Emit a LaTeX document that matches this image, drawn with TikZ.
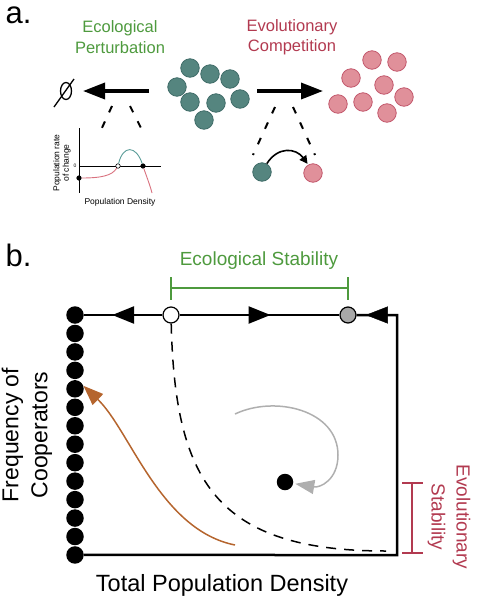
\documentclass[tikz,border=0pt]{standalone}
\usepackage{fontspec}
\setmainfont{Liberation Sans}
\usetikzlibrary{arrows.meta,shapes.geometric,decorations.markings}
\definecolor{ecogreen}{HTML}{4E9A3E}
\definecolor{evored}{HTML}{B23A50}
\definecolor{tealc}{HTML}{55857F}
\definecolor{tealline}{HTML}{3E6B67}
\definecolor{pinkc}{HTML}{E0909A}
\definecolor{pinkline}{HTML}{C2566B}
\definecolor{brownc}{HTML}{B5652E}
\definecolor{grayarrow}{HTML}{AFAFAF}
\definecolor{graydot}{HTML}{A8A8A8}
\definecolor{rateneg}{HTML}{D9727F}
\definecolor{ratepos}{HTML}{5A9C98}
\begin{document}
\begin{tikzpicture}[x=1pt,y=-1pt]
  \tikzset{
    cell/.style={circle,inner sep=0pt,minimum size=18.5pt,line width=0.8pt},
    coop/.style={cell,fill=tealc,draw=tealline},
    cheat/.style={cell,fill=pinkc,draw=pinkline},
    bdot/.style={circle,fill=black,inner sep=0pt,minimum size=17.5pt},
    fixpt/.style={circle,draw,inner sep=0pt,minimum size=16pt,line width=1.2pt},
    smalldot/.style={circle,draw,fill=black,inner sep=0pt,minimum size=4.5pt,line width=0.6pt},
    bigarrow/.style={line width=3.5pt,-{Triangle[length=22pt,width=16pt]}},
    zoomline/.style={line width=2pt,dash pattern=on 7pt off 10pt},
    flowmark/.style={postaction={decorate},decoration={markings,
      mark=at position 0.5 with {\arrow[xshift=11pt]{Triangle[length=22pt,width=17pt]}}}},
    lbl/.style={align=center,inner sep=0pt},
  }
  \useasboundingbox (0,0) rectangle (480,614);

  % panel a
  \node[anchor=base west,font=\fontsize{31}{31}\selectfont] (lbla) at (2,23) {a.};
  \node[lbl,text=ecogreen,font=\fontsize{16.5}{20.5}\selectfont] (ecopert) at (120,37) {Ecological\\Perturbation};
  \node[lbl,text=evored,font=\fontsize{16.5}{20.5}\selectfont] (evocomp) at (292,37) {Evolutionary\\Competition};
  \foreach \n/\x/\y in {1/190/68,2/210/74,3/230/79,4/177/87,5/190/102,6/216/103,7/240/99,8/204/120}
    \node[coop] (t\n) at (\x,\y) {};
  \foreach \n/\x/\y in {1/372/60,2/397/62,3/351/78,4/384/85,5/338/104,6/363/102,7/404/97,8/387/113}
    \node[cheat] (p\n) at (\x,\y) {};

  \coordinate (ecotail) at (149,91);
  \coordinate (ecohead) at (83,91);
  \coordinate (evotail) at (257,91);
  \coordinate (evohead) at (323,91);
  \draw[bigarrow] (ecotail) -- (ecohead);
  \draw[bigarrow] (evotail) -- (evohead);

  \node[ellipse,draw,line width=1.3pt,minimum width=11pt,minimum height=17pt,inner sep=0pt] (extinct) at (66,91) {};
  \draw[line width=1.3pt] (extinct.center) +(-12,16) -- +(8,-12);

  % zoom onto the inset plot
  \coordinate (ez1) at (112,106);
  \coordinate (ez2) at (101,130);
  \coordinate (ez3) at (130,106);
  \coordinate (ez4) at (142,130);
  \draw[zoomline] (ez1) -- (ez2);
  \draw[zoomline] (ez3) -- (ez4);

  \coordinate (ytop) at (79,128);
  \coordinate (ybot) at (79,193);
  \coordinate (xleft) at (79,166);
  \coordinate (xright) at (161,166);
  \draw[line width=1pt] (ytop) -- (ybot);
  \draw[line width=1pt] (xleft) -- (xright);
  \node[smalldot] (fp0) at (79,178) {};
  \node[smalldot,fill=white] (fp1) at (118,166) {};
  \node[smalldot] (fp2) at (143,166) {};
  \coordinate (rateend) at (152,193);
  \draw[rateneg,line width=0.9pt] (fp0) .. controls (100,178) and (112,176) .. (fp1);
  \draw[ratepos,line width=0.9pt] (fp1) .. controls (123,145) and (136,145) .. (fp2);
  \draw[rateneg,line width=0.9pt] (fp2) .. controls (146,175) and (150,185) .. (rateend);
  \node[lbl,rotate=90,font=\fontsize{8.5}{9.5}\selectfont] (ratelbl) at (62,163) {Population rate\\of change};
  \node[font=\fontsize{8.5}{8.5}\selectfont,inner sep=0pt] (denslbl) at (120,202) {Population Density};
  \node[font=\fontsize{5}{5}\selectfont,inner sep=0pt] (zero) at (75,166) {0};

  % zoom onto one switching cell
  \coordinate (vz1) at (275,107);
  \coordinate (vz2) at (253,155);
  \coordinate (vz3) at (293,107);
  \coordinate (vz4) at (315,155);
  \draw[zoomline] (vz1) -- (vz2);
  \draw[zoomline] (vz3) -- (vz4);
  \node[coop] (focal) at (262,172) {};
  \node[cheat] (mutant) at (313,173) {};
  \draw[line width=1.6pt,-{Triangle[length=8pt,width=8pt]},shorten >=1pt] (focal.60) .. controls (278,146) and (296,148) .. (mutant.120);

  % panel b
  \node[anchor=base west,font=\fontsize{31}{31}\selectfont] (lblb) at (2,266) {b.};
  \foreach \i in {0,...,13}
    \node[bdot] (d\i) at (75,{315+18.46*\i}) {};
  \node[fixpt,fill=white] (unstable) at (171,315) {};
  \node[fixpt,fill=graydot] (stable) at (348,315) {};
  \coordinate (tr) at (397,315);
  \coordinate (br) at (397,555);
  \draw[line width=2.5pt,flowmark] (unstable) -- (d0);
  \draw[line width=2.5pt,flowmark] (unstable) -- (stable);
  \draw[line width=2.5pt] (stable) -- (tr) -- (br) -- (d13);
  \path[flowmark] (tr) -- (stable);

  \node[text=ecogreen,font=\fontsize{19}{19}\selectfont,anchor=base] (ecostab) at (259,265) {Ecological Stability};
  \coordinate (esl) at (171,288);
  \coordinate (esr) at (348,288);
  \draw[ecogreen,line width=1.3pt] (esl) -- (esr) (esl) ++(0,-11) -- ++(0,23) (esr) ++(0,-11) -- ++(0,23);

  \coordinate (est) at (412,483);
  \coordinate (esb) at (412,553);
  \draw[evored,line width=1.3pt] (est) -- (esb) (est) ++(-10,0) -- ++(21,0) (esb) ++(-10,0) -- ++(21,0);
  \node[lbl,rotate=-90,text=evored,font=\fontsize{19}{25}\selectfont] (evostab) at (449,517) {Evolutionary\\Stability};

  \coordinate (sepend) at (386,551);
  \draw[line width=1.5pt,dash pattern=on 10pt off 8pt] (unstable) .. controls (175,480) and (215,551) .. (sepend);

  \coordinate (coopstart) at (235,545);
  \draw[brownc,line width=1.5pt,-{Triangle[length=20pt,width=15pt]}] (coopstart) .. controls (160,530) and (130,430) .. (d4.20);

  \node[bdot,minimum size=16.5pt] (interior) at (285,482) {};
  \coordinate (graystart) at (235,414);
  \draw[grayarrow,line width=1.5pt,-{Triangle[length=19pt,width=14pt]},shorten >=2pt] (graystart) .. controls (275,395) and (338,410) .. (338,455) .. controls (338,480) and (320,488) .. (interior);

  \node[font=\fontsize{23.5}{23.5}\selectfont,anchor=base] (xlab) at (222,591) {Total Population Density};
  \node[lbl,rotate=90,font=\fontsize{23}{29}\selectfont] (ylab) at (27,435) {Frequency of\\Cooperators};
\end{tikzpicture}
\end{document}
